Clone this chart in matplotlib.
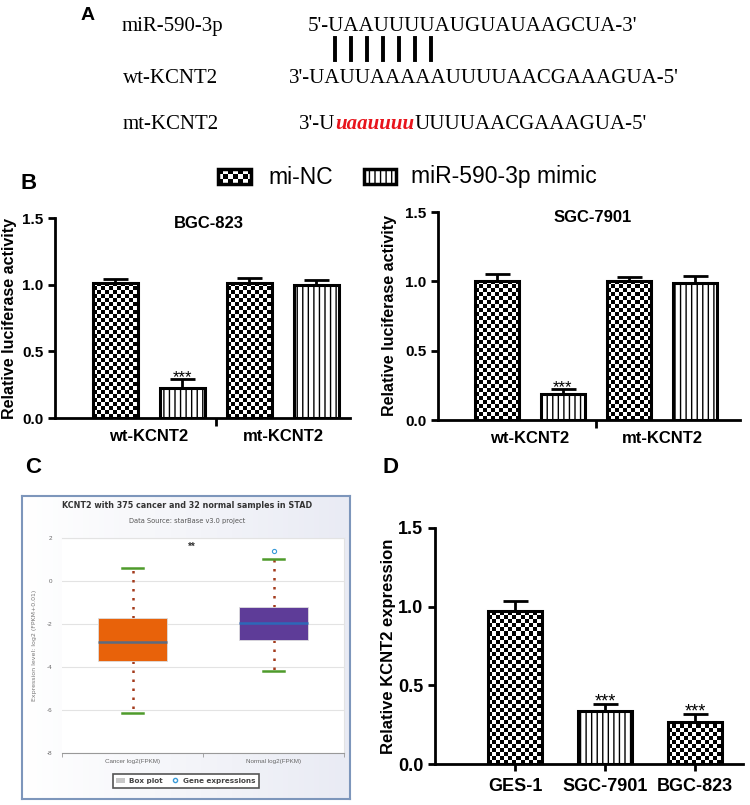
import numpy as np
import matplotlib.pyplot as plt
from matplotlib.lines import Line2D
from matplotlib.patches import Patch, Rectangle
from matplotlib.colors import LinearSegmentedColormap
from matplotlib.text import Annotation

plt.rcParams['font.family'] = ['Liberation Sans', 'DejaVu Sans']
plt.rcParams['axes.unicode_minus'] = False

W, H = 750, 805

# panel A sequences
mir_name = "miR-590-3p"
mir_seq = "5'-UAAUUUUAUGUAUAAGCUA-3'"
wt_name = "wt-KCNT2"
wt_seq = "3'-UAUUAAAAAUUUUAACGAAAGUA-5'"
mt_name = "mt-KCNT2"
mt_seq = ["3'-U", "uaauuuu", "UUUUAACGAAAGUA-5'"]
n_pairs = 7

# panel B luciferase
b_groups = ["wt-KCNT2", "mt-KCNT2"]
b_series = ["mi-NC", "miR-590-3p mimic"]
bgc_mean = [1.01, 0.225, 1.01, 1.00]
bgc_err = [0.03, 0.065, 0.04, 0.035]
sgc_mean = [1.00, 0.19, 1.00, 0.985]
sgc_err = [0.055, 0.03, 0.03, 0.05]
b_fill = ["checker", "lines", "checker", "lines"]
b_stars = ["", "***", "", ""]

# panel C starBase box plot
c_cats = ["Cancer log2(FPKM)", "Normal log2(FPKM)"]
c_q1 = [-3.7, -2.75]
c_med = [-2.85, -1.95]
c_q3 = [-1.7, -1.2]
c_lo = [-6.15, -4.2]
c_hi = [0.6, 1.0]
c_fliers = [[], [1.4]]
c_colors = ["#e8620a", "#5e3c98"]
c_medcolors = ["#5b6b80", "#2d68b8"]

# panel D qPCR
d_cats = ["GES-1", "SGC-7901", "BGC-823"]
d_mean = [0.975, 0.34, 0.27]
d_err = [0.06, 0.04, 0.045]
d_fill = ["checker", "lines", "checker"]
d_stars = ["", "***", "***"]


def px_rect(x0, y0, x1, y1):
    return [x0 / W, 1 - y1 / H, (x1 - x0) / W, (y1 - y0) / H]


def checker(ax, patch, cell=4):
    x0, y0 = patch.get_x(), patch.get_y()
    w, h = patch.get_width(), patch.get_height()
    p0 = ax.transData.transform((x0, y0))
    p1 = ax.transData.transform((x0 + w, y0 + h))
    cw = w * cell / (p1[0] - p0[0])
    ch = h * cell / (p1[1] - p0[1])
    nx = int(np.ceil(w / cw))
    ny = int(np.ceil(h / ch))
    grid = np.add.outer(np.arange(ny), np.arange(nx)) % 2
    im = ax.imshow(grid, cmap="gray", origin="lower", interpolation="nearest",
                   aspect="auto", extent=(x0, x0 + nx * cw, y0, y0 + ny * ch), zorder=1.5)
    im.set_clip_path(patch)


def bar_panel(ax, xs, means, errs, fills, stars, width, xlim, star_size):
    ax.set_xlim(*xlim)
    ax.set_ylim(0, 1.5)
    for x, m, e, f, s in zip(xs, means, errs, fills, stars):
        if f == "lines":
            b = ax.bar(x, m, width, color="white", edgecolor="black", linewidth=2.2,
                       hatch="|||", zorder=2)[0]
        else:
            b = ax.bar(x, m, width, color="none", edgecolor="black", linewidth=2.2, zorder=2)[0]
            checker(ax, b)
        ax.errorbar(x, m, yerr=[[0], [e]], fmt="none", ecolor="black", elinewidth=2,
                    capsize=9, capthick=2, zorder=3)
        if s:
            ax.text(x, m + e - 0.04, s, ha="center", va="bottom", fontsize=star_size)
    ax.set_xlim(*xlim)
    ax.set_ylim(0, 1.5)
    ax.set_yticks([0, 0.5, 1.0, 1.5])
    ax.set_yticklabels(["0.0", "0.5", "1.0", "1.5"])
    for sp in ["top", "right"]:
        ax.spines[sp].set_visible(False)
    for sp in ["left", "bottom"]:
        ax.spines[sp].set_linewidth(2)
    ax.tick_params(axis="y", width=2, length=5)


fig = plt.figure(figsize=(7.5, 8.05), dpi=100)

# ---- panel A
fig.text(81 / W, 1 - 15 / H, "A", fontsize=14, fontweight="bold", va="center")
serif_fam = ["Liberation Serif", "DejaVu Serif"]
fs_a = 15
serif = dict(family=serif_fam, fontsize=fs_a, va="baseline")
fig.text(122 / W, 1 - 31 / H, mir_name, **serif)
fig.text(308 / W, 1 - 31 / H, mir_seq, **serif)
fig.text(123 / W, 1 - 83 / H, wt_name, **serif)
fig.text(289 / W, 1 - 83 / H, wt_seq, **serif)
fig.text(123 / W, 1 - 129 / H, mt_name, **serif)
t1 = fig.text(299 / W, 1 - 129 / H, mt_seq[0], **serif)
# chain the three pieces of the mutant sequence
t2 = Annotation(mt_seq[1], xy=(1, 0), xycoords=t1, va="bottom", ha="left",
                family=serif_fam, fontsize=fs_a, color="#e8141c", style="italic",
                fontweight="bold", annotation_clip=False)
fig.add_artist(t2)
t3 = Annotation(mt_seq[2], xy=(1, 0), xycoords=t2, va="bottom", ha="left",
                family=serif_fam, fontsize=fs_a, annotation_clip=False)
fig.add_artist(t3)
for i in range(n_pairs):
    x = (335 + 16 * i) / W
    fig.add_artist(Line2D([x, x], [1 - 38 / H, 1 - 60 / H], color="black", lw=2.8,
                          transform=fig.transFigure))

# ---- panel B
fig.text(21 / W, 1 - 183 / H, "B", fontsize=16, fontweight="bold", va="center")
legend_boxes = [(218, 251, "checker", 268), (364, 396, "lines", 411)]
for (lx0, lx1, f, tx), lab in zip(legend_boxes, b_series):
    lax = fig.add_axes(px_rect(lx0, 169, lx1, 184))
    lax.set_xlim(0, 1)
    lax.set_ylim(0, 1)
    lax.axis("off")
    if f == "lines":
        r = Rectangle((0, 0), 1, 1, facecolor="white", edgecolor="black", lw=2.5,
                      hatch="|||", clip_on=False, zorder=2)
        lax.add_patch(r)
    else:
        r = Rectangle((0, 0), 1, 1, facecolor="none", edgecolor="black", lw=2.5,
                      clip_on=False, zorder=2)
        lax.add_patch(r)
        checker(lax, r, cell=5)
        lax.set_xlim(0, 1)
        lax.set_ylim(0, 1)
    fig.text(tx / W, 1 - 177 / H, lab, fontsize=16.5, va="center")

xs4 = [0, 1, 2, 3]
for rect, means, errs, title, xlim, tpos, ylx in [
        (px_rect(55, 218, 350, 418), bgc_mean, bgc_err, "BGC-823", (-0.9, 3.5), 0.52, -0.13),
        (px_rect(438, 212, 740, 420), sgc_mean, sgc_err, "SGC-7901", (-0.89, 3.68), 0.513, -0.136)]:
    ax = fig.add_axes(rect)
    bar_panel(ax, xs4, means, errs, b_fill, b_stars, 0.67, xlim, 12)
    ax.set_xticks([0.5, 2.5])
    ax.set_xticklabels(b_groups)
    ax.set_xticks([1.5], minor=True)
    ax.tick_params(axis="x", which="major", length=0, pad=8)
    ax.tick_params(axis="x", which="minor", length=6, width=2)
    for lab in ax.get_xticklabels() + ax.get_yticklabels():
        lab.set_fontweight("bold")
    for lab in ax.get_xticklabels():
        lab.set_fontsize(12)
    for lab in ax.get_yticklabels():
        lab.set_fontsize(11)
    ax.set_ylabel("Relative luciferase activity", fontsize=11.5, fontweight="bold")
    ax.yaxis.set_label_coords(ylx, 0.5)
    ax.text(tpos, 0.975, title, transform=ax.transAxes, ha="center", va="center",
            fontsize=12, fontweight="bold")

# ---- panel C
fig.text(25 / W, 1 - 467 / H, "C", fontsize=16, fontweight="bold", va="center")
axf = fig.add_axes(px_rect(22, 496, 350, 799))
grad = LinearSegmentedColormap.from_list("bg", ["#ffffff", "#e9ebf4"])
axf.imshow(np.linspace(0, 1, 64).reshape(1, -1), cmap=grad, aspect="auto", extent=(0, 1, 0, 1))
axf.set_xticks([])
axf.set_yticks([])
for sp in axf.spines.values():
    sp.set_color("#7d96bb")
    sp.set_linewidth(1.5)
fig.text(187 / W, 1 - 505 / H, "KCNT2 with 375 cancer and 32 normal samples in STAD",
         family="DejaVu Sans", fontsize=5.8, fontweight="bold", color="#333333",
         ha="center", va="center")
fig.text(187 / W, 1 - 521 / H, "Data Source: starBase v3.0 project", family="DejaVu Sans",
         fontsize=4.8, color="#555555", ha="center", va="center")

axc = fig.add_axes(px_rect(62, 538, 344, 753))
axc.set_facecolor("white")
stats = []
for i in range(len(c_cats)):
    stats.append(dict(med=c_med[i], q1=c_q1[i], q3=c_q3[i], whislo=c_lo[i],
                      whishi=c_hi[i], fliers=c_fliers[i], label=c_cats[i]))
bp = axc.bxp(stats, positions=[0, 1], widths=0.49, capwidths=0.15, patch_artist=True,
             boxprops=dict(linewidth=0.6, edgecolor="#dddddd"),
             whiskerprops=dict(color="#a33a1c", linewidth=1.8, linestyle=(0, (1, 2.6))),
             capprops=dict(color="#4e9b2b", linewidth=1.8),
             medianprops=dict(linewidth=1.8),
             flierprops=dict(marker="o", markerfacecolor="none", markeredgecolor="#3a9bd8",
                             markersize=3, markeredgewidth=0.8))
for i, b in enumerate(bp["boxes"]):
    b.set_facecolor(c_colors[i])
    b.set_zorder(3)
for i, m in enumerate(bp["medians"]):
    m.set_color(c_medcolors[i])
    m.set_zorder(4)
axc.set_xlim(-0.5, 1.5)
axc.set_ylim(-8, 2)
axc.set_yticks([-8, -6, -4, -2, 0, 2])
axc.yaxis.grid(True, color="#e3e3e3", linewidth=0.8)
axc.set_axisbelow(True)
axc.tick_params(axis="y", length=0, labelsize=4.5, labelcolor="#666666", pad=7)
axc.set_xticks([-0.5, 0.5, 1.5], minor=True)
axc.tick_params(axis="x", which="minor", length=3, color="#999999", width=0.6)
axc.tick_params(axis="x", which="major", length=0, labelsize=4.5, labelcolor="#666666", pad=4)
axc.set_xticklabels(c_cats)
axc.spines["left"].set_visible(False)
axc.spines["bottom"].set_color("#999999")
axc.spines["top"].set_color("#e3e3e3")
axc.spines["right"].set_color("#e3e3e3")
axc.set_ylabel("Expression level: log2 (FPKM+0.01)", fontsize=4.5, color="#777777",
               family="DejaVu Sans")
axc.yaxis.set_label_coords(-0.089, 0.5)
axc.text(0.42, 1.6, "**", ha="center", va="center", fontsize=7, fontweight="bold",
         color="#333333")
lg = fig.legend(handles=[Patch(facecolor="#c8c8c8", edgecolor="none", label="Box plot"),
                         Line2D([], [], marker="o", ls="none", markerfacecolor="none",
                                markeredgecolor="#3a9bd8", markersize=3, label="Gene expressions")],
                loc="center", bbox_to_anchor=(186 / W, 1 - 781 / H), ncol=2, fancybox=False,
                edgecolor="#555555", framealpha=1, handlelength=1.2, handletextpad=0.5,
                columnspacing=1.2, borderpad=0.5,
                prop=dict(size=5.2, weight="bold", family="DejaVu Sans"))
lg.get_frame().set_linewidth(1.2)
for t in lg.get_texts():
    t.set_color("#444444")

# ---- panel D
fig.text(382 / W, 1 - 467 / H, "D", fontsize=16, fontweight="bold", va="center")
axd = fig.add_axes(px_rect(435, 528, 743, 764))
bar_panel(axd, [0, 1, 2], d_mean, d_err, d_fill, d_stars, 0.6, (-0.89, 2.53), 13)
axd.set_xticks([0, 1, 2])
axd.set_xticklabels(d_cats)
axd.tick_params(axis="x", length=5, width=2, pad=5)
for lab in axd.get_xticklabels() + axd.get_yticklabels():
    lab.set_fontweight("bold")
    lab.set_fontsize(13)
axd.set_ylabel("Relative KCNT2 expression", fontsize=12, fontweight="bold")
axd.yaxis.set_label_coords(-0.127, 0.5)

fig.savefig("out.png", dpi=100)
